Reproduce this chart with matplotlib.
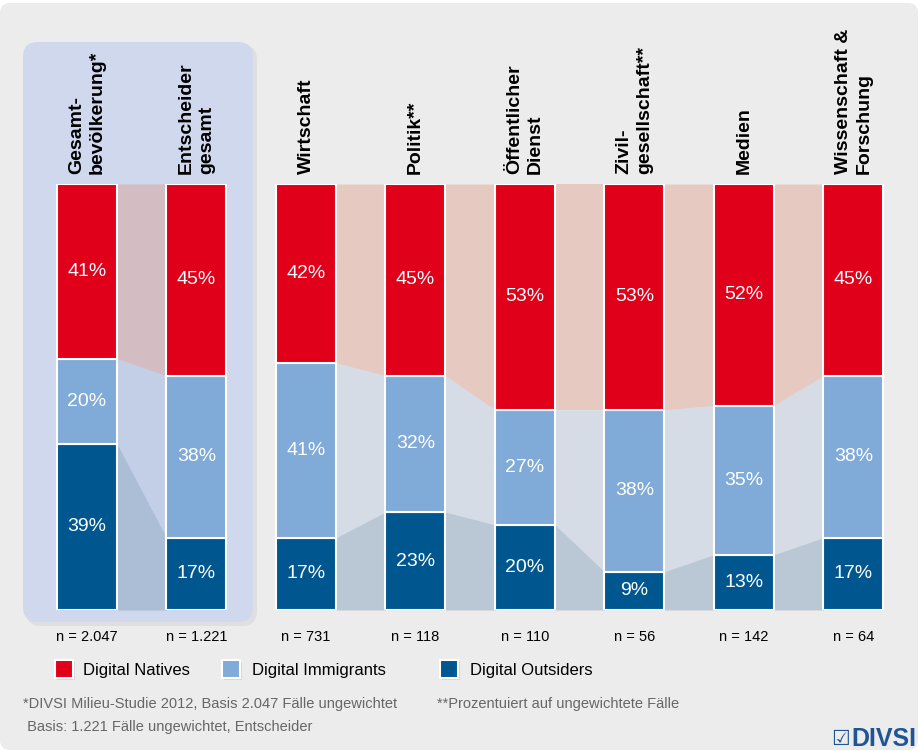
import matplotlib
matplotlib.use("Agg")
import numpy as np
import matplotlib.pyplot as plt
from matplotlib.patches import FancyBboxPatch, Rectangle

plt.rcParams['font.family'] = ['Liberation Sans', 'DejaVu Sans']

# data
categories = ['Gesamt-\nbevölkerung*', 'Entscheider\ngesamt', 'Wirtschaft', 'Politik**',
              'Öffentlicher\nDienst', 'Zivil-\ngesellschaft**', 'Medien',
              'Wissenschaft &\nForschung']
natives = [41, 45, 42, 45, 53, 53, 52, 45]
immigrants = [20, 38, 41, 32, 27, 38, 35, 38]
outsiders = [39, 17, 17, 23, 20, 9, 13, 17]
n_labels = ['n = 2.047', 'n = 1.221', 'n = 731', 'n = 118', 'n = 110', 'n = 56',
            'n = 142', 'n = 64']
series_names = ['Digital Natives', 'Digital Immigrants', 'Digital Outsiders']
footnote_1 = '*DIVSI Milieu-Studie 2012, Basis 2.047 Fälle ungewichtet'
footnote_2 = ' Basis: 1.221 Fälle ungewichtet, Entscheider'
footnote_3 = '**Prozentuiert auf ungewichtete Fälle'
# the two overall bars are grouped; no band links group and sectors
group_break = 1

RED = '#e1001a'
LIGHT = '#80aad7'
NAVY = '#00578f'
band_colors = [('#dc8468', 0.32), ('#acc0dd', 0.35), ('#89a5c1', 0.50)]

W, H = 920, 751
fig = plt.figure(figsize=(W / 100, H / 100), dpi=100)
fig.patch.set_facecolor('white')


def px_box(x0, y0, x1, y1, **kw):
    # box given in pixel coords (top-left origin) -> inches
    return FancyBboxPatch((x0 / 100, (H - y1) / 100), (x1 - x0) / 100, (y1 - y0) / 100,
                          transform=fig.dpi_scale_trans, **kw)


fig.patches.append(px_box(0, 3, 918, 750, boxstyle='round,pad=0,rounding_size=0.1',
                          fc='#ececec', ec='none', zorder=-5))
fig.patches.append(px_box(26, 45, 257, 626, boxstyle='round,pad=0,rounding_size=0.15',
                          fc='#dfdfdf', ec='none', zorder=-4))
fig.patches.append(px_box(23, 42, 253, 622, boxstyle='round,pad=0,rounding_size=0.15',
                          fc='#cfd8ed', ec='none', zorder=-3))

# axes: bar centres from 87 px to 853.5 px, bars from y 184 to 610 px
step = (853.5 - 87) / 7
left_px = 87 - step / 2
ax = fig.add_axes([left_px / W, (H - 610) / H, 8 * step / W, 426 / H])
ax.set_xlim(-0.5, 7.5)
ax.set_ylim(0, 100)
ax.axis('off')
ax.patch.set_alpha(0)

x = np.arange(len(categories))
w = 60 / step
o = np.array(outsiders)
im = np.array(immigrants)
na = np.array(natives)

segments = [(o + im, o + im + na), (o, o + im), (np.zeros_like(o), o)]
for (lo, hi), (c, a) in zip(segments, band_colors):
    for i in range(len(x) - 1):
        if i == group_break:
            continue
        xa, xb = x[i] + w / 2, x[i + 1] - w / 2
        ax.fill_between([xa, xb], [lo[i], lo[i + 1]], [hi[i], hi[i + 1]],
                        color=c, alpha=a, lw=0, zorder=1)

ax.bar(x, o, width=w, color=NAVY, edgecolor='white', linewidth=1.5, zorder=3)
ax.bar(x, im, bottom=o, width=w, color=LIGHT, edgecolor='white', linewidth=1.5, zorder=3)
ax.bar(x, na, bottom=o + im, width=w, color=RED, edgecolor='white', linewidth=1.5, zorder=3)

for i in range(len(x)):
    for bot, val in [(0, o[i]), (o[i], im[i]), (o[i] + im[i], na[i])]:
        ax.text(x[i], bot + val / 2, f'{val}%', ha='center', va='center',
                color='white', fontsize=14, zorder=4)
    ax.annotate(categories[i], xy=(x[i], 100), xytext=(0, 7.5), textcoords='offset points',
                rotation=90, ha='center', va='bottom', multialignment='left',
                fontsize=14, fontweight='bold', linespacing=1.3, annotation_clip=False)
    ax.annotate(n_labels[i], xy=(x[i], 0), xytext=(0, -19.5), textcoords='offset points',
                ha='center', va='center', fontsize=10.5, annotation_clip=False)

# legend
leg_x = [55, 222, 440]
txt_x = [83, 252, 470]
for sx, tx, c, name in zip(leg_x, txt_x, [RED, LIGHT, NAVY], series_names):
    fig.patches.append(Rectangle(((sx + 2) / 100, (H - 680) / 100), 0.18, 0.18,
                                 transform=fig.dpi_scale_trans, fc='#d6d6d6', ec='none'))
    fig.patches.append(Rectangle((sx / 100, (H - 678) / 100), 0.18, 0.18,
                                 transform=fig.dpi_scale_trans, fc=c, ec='white', lw=1.5))
    fig.text(tx / W, 1 - 670 / H, name, ha='left', va='center', fontsize=12)

fig.text(23 / W, 1 - 704 / H, footnote_1, ha='left', va='center', fontsize=10.5, color='#666666')
fig.text(23 / W, 1 - 727 / H, footnote_2, ha='left', va='center', fontsize=10.5, color='#666666')
fig.text(437 / W, 1 - 704 / H, footnote_3, ha='left', va='center', fontsize=10.5, color='#666666')

fig.text(831 / W, 1 - 739 / H, '☑', ha='left', va='center', fontsize=15, color='#1f5596',
         family=['DejaVu Sans'])
fig.text(851 / W, 1 - 739 / H, 'DIVSI', ha='left', va='center', fontsize=18,
         fontweight='bold', color='#1f5596')

fig.savefig('out.png', dpi=100, facecolor='white')
